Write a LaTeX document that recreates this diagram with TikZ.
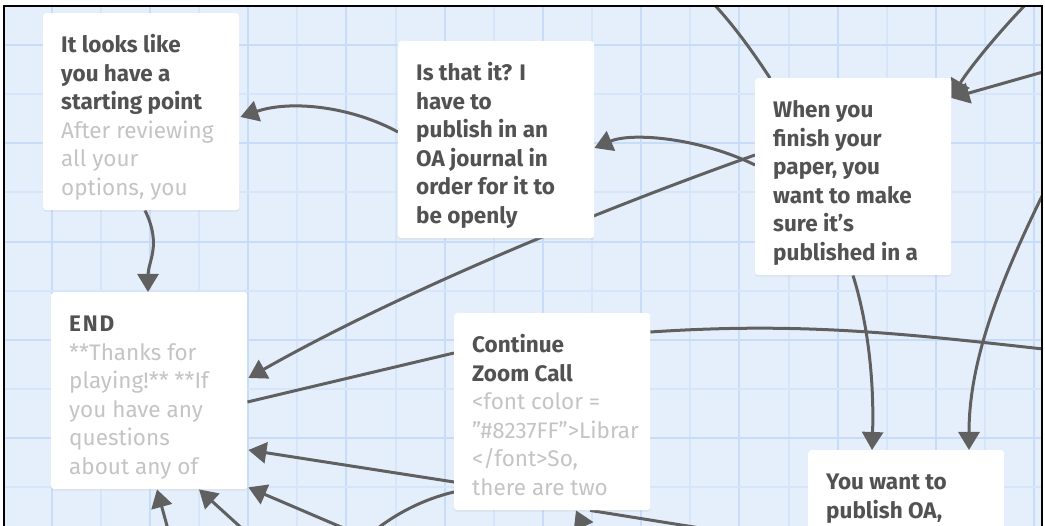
\documentclass[tikz,border=0pt]{standalone}
\usepackage{fontspec}
\setmainfont{Fira Sans}
\usetikzlibrary{arrows.meta,shadows,calc}
\pgfdeclarelayer{bg}
\pgfdeclarelayer{edges}
\pgfsetlayers{bg,edges,main}
\definecolor{gridbg}{RGB}{229,239,252}
\definecolor{minorc}{RGB}{214,229,249}
\definecolor{majorc}{RGB}{198,220,248}
\definecolor{linkc}{RGB}{96,96,96}
\definecolor{titlec}{RGB}{82,82,82}
\definecolor{bodyc}{RGB}{196,196,196}
\newcommand\cardline[1]{\hbox to 160pt{#1\hss}}
\newcommand\cardtext[1]{\parbox[c][197pt][t]{160pt}{\fontsize{22.5pt}{28.5pt}\selectfont\leavevmode\rule{0pt}{39.5pt}\vspace{-28.5pt}\par #1}}
\tikzset{
  card/.style={fill=white, rounded corners=3pt, inner xsep=18pt, inner ysep=0pt, anchor=north west,
    drop shadow={shadow xshift=0pt, shadow yshift=-1.5pt, opacity=0.12}},
  link/.style={line width=3pt, draw=linkc, -{Triangle[length=18pt,width=21pt]}},
  plainlink/.style={line width=3pt, draw=linkc},
}
\begin{document}
\begin{tikzpicture}[x=1pt,y=-1pt]
\useasboundingbox (0,0) rectangle (1045,526);
\begin{pgfonlayer}{bg}
\fill[white] (0,0) rectangle (1045,526);
\fill[gridbg] (4,6) rectangle (1042,526);
\foreach \k in {1,...,21} {
  \pgfmathsetmacro\xx{2.6+49.125*\k}
  \pgfmathtruncatemacro\mm{mod(\k,2)}
  \ifnum\mm=1 \draw[majorc, line width=2pt] (\xx,6) -- (\xx,526);
  \else \draw[minorc, line width=2pt] (\xx,6) -- (\xx,526); \fi
}
\foreach \k in {1,...,11} {
  \pgfmathsetmacro\yy{-4.1+49.125*\k}
  \pgfmathtruncatemacro\mm{mod(\k,2)}
  \ifnum\mm=1 \draw[majorc, line width=2pt] (4,\yy) -- (1042,\yy);
  \else \draw[minorc, line width=2pt] (4,\yy) -- (1042,\yy); \fi
}
\end{pgfonlayer}

\node[card] (look) at (43,13) {\cardtext{\color{titlec}\bfseries
  \cardline{It looks like}\cardline{you have a}\cardline{starting point}
  \color{bodyc}\mdseries
  \cardline{After reviewing}\cardline{all your}\cardline{options, you}}};
\node[card] (isit) at (398,41) {\cardtext{\color{titlec}\bfseries
  \cardline{Is that it? I}\cardline{have to}\cardline{publish in an}
  \cardline{OA journal in}\cardline{order for it to}\cardline{be openly}}};
\node[card] (when) at (755,78) {\cardtext{\color{titlec}\bfseries
  \cardline{When you}\cardline{finish your}\cardline{paper, you}
  \cardline{want to make}\cardline{sure it’s}\cardline{published in a}}};
\node[card] (endn) at (51,292) {\cardtext{\color{titlec}\bfseries
  \cardline{\addfontfeature{LetterSpace=8}END}
  \color{bodyc}\mdseries
  \cardline{**Thanks for}\cardline{playing!** **If}\cardline{you have any}
  \cardline{questions}\cardline{about any of}}};
\node[card] (cont) at (454,313) {\cardtext{\color{titlec}\bfseries
  \cardline{Continue}\cardline{Zoom Call}
  \color{bodyc}\mdseries
  \cardline{<font color =}\cardline{\symbol{34}\#8237FF\symbol{34}>Librar}\cardline{</font>So,}
  \cardline{there are two}}};
\node[card] (want) at (808,450) {\cardtext{\color{titlec}\bfseries
  \cardline{You want to}\cardline{publish OA,}\cardline{}\cardline{}\cardline{}\cardline{}}};

\coordinate (aEnd) at (706,-4);
\coordinate (bStart) at (1034,-4);
\coordinate (cStart) at (1050,70);
\coordinate (jEnd) at (355,548);
\coordinate (kStart) at (355,533);
\coordinate (lStart) at (247,533);
\coordinate (mStart) at (169,533);
\coordinate (nStart) at (592,545);
\coordinate (oEnd) at (800,544);
\coordinate (pEnd) at (1052,350);
\coordinate (rStart) at (1050,180);

\begin{pgfonlayer}{edges}
\begin{scope}
\clip (4,6) rectangle (1042,526);
\draw[plainlink] ($(when.north west)+(15,0)$) .. controls (745,40) and (725,15) .. (aEnd);
\draw[link] (bStart) .. controls (1000,30) and (968,70) .. ($(when.north east)+(0,20)$);
\draw[link] (cStart) -- ($(when.north east)+(0,20)$);
\draw[link] ($(when.north west)+(0,87)$) .. controls (700,138) and (632,132) .. ($(isit.north east)+(0,107)$);
\draw[link] ($(when.north west)+(0,77)$) .. controls (600,210) and (400,292) .. ($(endn.north east)+(1,86)$);
\draw[link] ($(isit.north west)+(0,91)$) .. controls (350,106) and (290,100) .. ($(look.north east)+(1,104)$);
\draw[link] ($(look.south west)+(102,0)$) .. controls (162,245) and (148,262) .. ($(endn.north west)+(97,0)$);
\draw[plainlink] ($(cont.north west)+(0,40)$) -- ($(endn.north east)+(0,110)$);
\draw[link] ($(cont.north west)+(0,169)$) -- ($(endn.north east)+(1,158)$);
\draw[plainlink] ($(cont.north west)+(0,179)$) .. controls (420,500) and (385,518) .. (jEnd);
\draw[link] (kStart) -- ($(endn.south east)+(1,-2)$);
\draw[link] (lStart) -- ($(endn.south west)+(148,0)$);
\draw[link] (mStart) -- ($(endn.south west)+(106,0)$);
\draw[link] (nStart) -- ($(cont.south west)+(122,0)$);
\draw[plainlink] ($(cont.south west)+(136,0)$) -- (oEnd);
\draw[plainlink] ($(cont.north east)+(0,19)$) .. controls (800,322) and (900,333) .. (pEnd);
\draw[link] ($(when.south west)+(98,0)$) .. controls (870,330) and (874,390) .. ($(want.north west)+(64,0)$);
\draw[link] (rStart) .. controls (1000,280) and (969,360) .. ($(want.north west)+(161,0)$);
\end{scope}
\end{pgfonlayer}

\draw[black, line width=1.5pt] (4,526) -- (4,6) -- (1042,6) -- (1042,526);
\end{tikzpicture}
\end{document}
